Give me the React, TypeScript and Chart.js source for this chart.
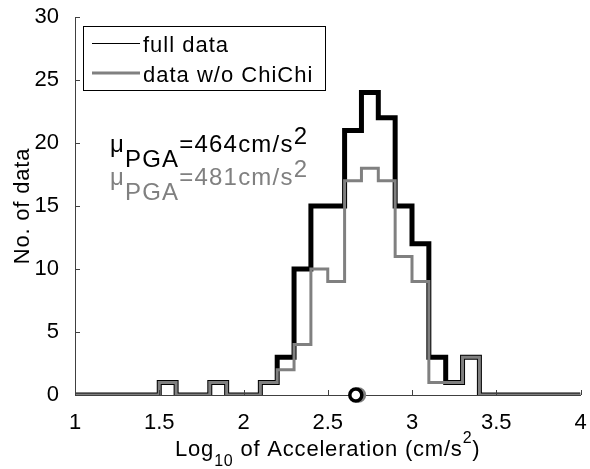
import { useEffect, useRef } from "react";
import { Chart, registerables } from "chart.js";

Chart.register(...registerables);

// Histogram bin edges of log10(PGA), width 0.1
const binEdges = [
  1.0, 1.1, 1.2, 1.3, 1.4, 1.5, 1.6, 1.7, 1.8, 1.9, 2.0, 2.1, 2.2, 2.3, 2.4, 2.5,
  2.6, 2.7, 2.8, 2.9, 3.0, 3.1, 3.2, 3.3, 3.4, 3.5, 3.6, 3.7, 3.8, 3.9, 4.0,
];

// Counts per bin (one per interval between consecutive edges)
const fullDataCounts = [
  0, 0, 0, 0, 0, 1, 0, 0, 1, 0, 0, 1, 3, 10, 15, 15, 21, 24, 22, 15, 12, 3, 1, 3, 0, 0, 0, 0, 0, 0,
];
const noChiChiCounts = [
  0, 0, 0, 0, 0, 1, 0, 0, 1, 0, 0, 1, 2, 4, 10, 9, 17, 18, 17, 11, 9, 1, 1, 3, 0, 0, 0, 0, 0, 0,
];

// Mean PGA (cm/s^2) of each set
const meanPGA = [464, 481];

const seriesLabels = ["full data", "data w/o ChiChi"];
const seriesColors = ["#000000", "#808080"];

const xTicks = [1, 1.5, 2, 2.5, 3, 3.5, 4];
const yTicks = [0, 5, 10, 15, 20, 25, 30];

const FONT = '"Liberation Sans", Arial, Helvetica, sans-serif';

// Each bin's count is held from its left edge; the last edge closes the last bin
function stairs(counts: number[]) {
  return binEdges.map((x, i) => ({ x, y: counts[Math.min(i, counts.length - 1)] }));
}

type Part = { text: string; dy?: number; size?: number };

// Draws a run of text pieces left to right, with sub/superscript offsets
function drawRich(
  ctx: CanvasRenderingContext2D,
  x: number,
  y: number,
  parts: Part[],
  color: string,
  baseSize: number,
  spacing: number
) {
  ctx.save();
  ctx.fillStyle = color;
  ctx.textBaseline = "alphabetic";
  ctx.textAlign = "left";
  (ctx as any).letterSpacing = spacing + "px";
  let cx = x;
  for (const p of parts) {
    ctx.font = `${p.size ?? baseSize}px ${FONT}`;
    ctx.fillText(p.text, cx, y + (p.dy ?? 0));
    cx += ctx.measureText(p.text).width;
  }
  ctx.restore();
}

function richWidth(ctx: CanvasRenderingContext2D, parts: Part[], baseSize: number, spacing: number) {
  ctx.save();
  (ctx as any).letterSpacing = spacing + "px";
  let w = 0;
  for (const p of parts) {
    ctx.font = `${p.size ?? baseSize}px ${FONT}`;
    w += ctx.measureText(p.text).width;
  }
  ctx.restore();
  return w;
}

const decorations = {
  id: "decorations",
  afterDraw(chart: Chart) {
    const { ctx, chartArea, scales } = chart;
    const xs = scales.x;
    const ys = scales.y;

    // inward tick marks
    ctx.save();
    ctx.strokeStyle = "#404040";
    ctx.lineWidth = 1;
    ctx.beginPath();
    for (const v of xTicks) {
      const px = Math.round(xs.getPixelForValue(v)) + 0.5;
      ctx.moveTo(px, chartArea.bottom);
      ctx.lineTo(px, chartArea.bottom - 5);
    }
    for (const v of yTicks) {
      const py = Math.round(ys.getPixelForValue(v)) + 0.5;
      ctx.moveTo(chartArea.left, py);
      ctx.lineTo(chartArea.left + 5, py);
    }
    ctx.stroke();
    ctx.restore();

    // legend
    ctx.save();
    ctx.fillStyle = "#ffffff";
    ctx.fillRect(83, 26, 243, 65);
    ctx.strokeStyle = "#000000";
    ctx.lineWidth = 1;
    ctx.strokeRect(83.5, 26.5, 242, 64);
    ctx.beginPath();
    ctx.strokeStyle = seriesColors[0];
    ctx.lineWidth = 1;
    ctx.moveTo(92, 43.5);
    ctx.lineTo(140, 43.5);
    ctx.stroke();
    ctx.beginPath();
    ctx.strokeStyle = seriesColors[1];
    ctx.lineWidth = 3;
    ctx.moveTo(92, 73);
    ctx.lineTo(140, 73);
    ctx.stroke();
    ctx.restore();
    drawRich(ctx, 143, 52, [{ text: seriesLabels[0] }], "#000", 22, 1);
    drawRich(ctx, 143, 82, [{ text: seriesLabels[1] }], "#000", 22, 1);

    // mean annotations
    const annY = [152, 185];
    meanPGA.forEach((m, i) => {
      drawRich(
        ctx,
        110,
        annY[i],
        [
          { text: "\u03bc" },
          { text: "PGA", dy: 15 },
          { text: `=${m}cm/s` },
          { text: "2", dy: -8 },
        ],
        seriesColors[i],
        24,
        1.2
      );
    });

    // x-axis title
    const xParts: Part[] = [
      { text: "Log" },
      { text: "10", dy: 10, size: 16 },
      { text: " of Acceleration (cm/s" },
      { text: "2", dy: -13, size: 16 },
      { text: ")" },
    ];
    const w = richWidth(ctx, xParts, 22, 0.8);
    const cx = (chartArea.left + chartArea.right) / 2;
    drawRich(ctx, cx - w / 2, 456, xParts, "#000", 22, 0.8);

    // y-axis title
    ctx.save();
    ctx.translate(29, (chartArea.top + chartArea.bottom) / 2);
    ctx.rotate(-Math.PI / 2);
    ctx.font = `22px ${FONT}`;
    ctx.fillStyle = "#000";
    ctx.textAlign = "center";
    ctx.textBaseline = "alphabetic";
    (ctx as any).letterSpacing = "0.8px";
    ctx.fillText("No. of data", 0, 0);
    ctx.restore();
  },
};

export default function App() {
  const canvasRef = useRef<HTMLCanvasElement | null>(null);

  useEffect(() => {
    const canvas = canvasRef.current;
    if (!canvas) return;
    const chart = new Chart(canvas, {
      type: "line",
      data: {
        datasets: [
          {
            label: "mean full",
            type: "scatter",
            data: [{ x: Math.log10(meanPGA[0]), y: 0 }],
            borderColor: "#000000",
            backgroundColor: "#ffffff",
            pointRadius: 6,
            borderWidth: 3.5,
            pointBorderWidth: 3.5,
            clip: false as any,
            order: 0,
          },
          {
            label: "mean w/o ChiChi",
            type: "scatter",
            data: [{ x: Math.log10(meanPGA[1]), y: 0 }],
            borderColor: "#808080",
            backgroundColor: "#ffffff",
            pointRadius: 6,
            borderWidth: 3.5,
            pointBorderWidth: 3.5,
            clip: false as any,
            order: 1,
          },
          {
            label: seriesLabels[1],
            data: stairs(noChiChiCounts),
            borderColor: seriesColors[1],
            borderWidth: 3,
            stepped: "before",
            pointRadius: 0,
            fill: false,
            clip: 0 as any,
            order: 2,
          },
          {
            label: seriesLabels[0],
            data: stairs(fullDataCounts),
            borderColor: seriesColors[0],
            borderWidth: 5,
            stepped: "before",
            pointRadius: 0,
            fill: false,
            clip: 0 as any,
            order: 3,
          },
        ],
      },
      options: {
        animation: false,
        responsive: true,
        maintainAspectRatio: false,
        layout: { padding: { top: 17, right: 5, left: 0, bottom: 0 } },
        plugins: {
          legend: { display: false },
          tooltip: { enabled: false },
          title: { display: false },
        },
        scales: {
          x: {
            type: "linear",
            min: 1,
            max: 4,
            grid: { display: false },
            border: { display: true, color: "#404040", width: 1 },
            ticks: {
              stepSize: 0.5,
              color: "#000",
              padding: 7,
              maxRotation: 0,
              autoSkip: false,
              font: { family: FONT, size: 22 },
              callback: (v: any) => String(Number(v)),
            },
            afterFit(scale: any) {
              scale.height = 74;
              scale.paddingLeft = 0;
              scale.paddingRight = 0;
            },
          },
          y: {
            type: "linear",
            min: 0,
            max: 30,
            grid: { display: false },
            border: { display: true, color: "#404040", width: 1 },
            ticks: {
              stepSize: 5,
              color: "#000",
              padding: 8,
              font: { family: FONT, size: 22 },
            },
            afterFit(scale: any) {
              scale.width = 75;
              scale.paddingTop = 0;
              scale.paddingBottom = 0;
            },
          },
        },
      },
      plugins: [decorations],
    });
    return () => chart.destroy();
  }, []);

  return (
    <div style={{ position: "absolute", left: 0, top: 0, width: 590, height: 469, background: "#fff" }}>
      <canvas ref={canvasRef} />
    </div>
  );
}
